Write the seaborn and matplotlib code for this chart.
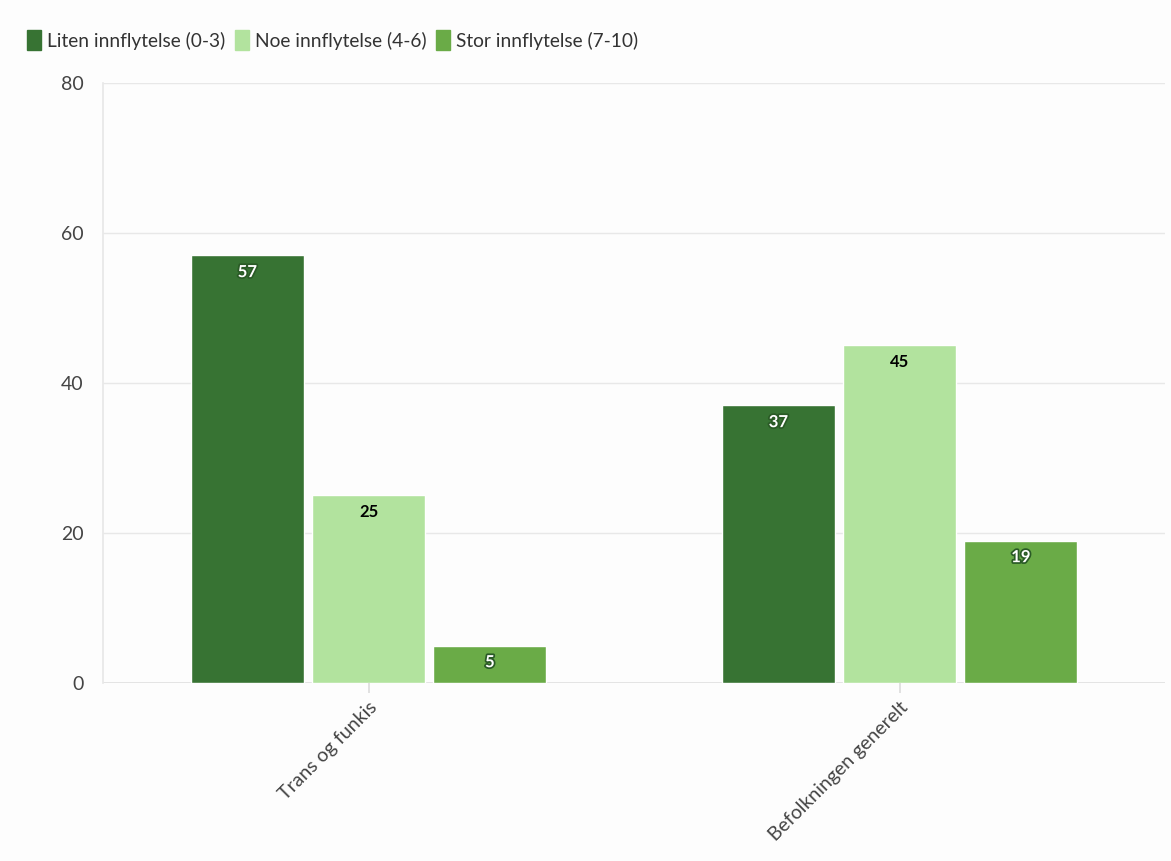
import pandas as pd
import numpy as np
import seaborn as sns
import matplotlib.pyplot as plt
import matplotlib.patheffects as pe

groups = ['Trans og funkis', 'Befolkningen generelt']
series = ['Liten innflytelse (0-3)', 'Noe innflytelse (4-6)', 'Stor innflytelse (7-10)']
liten = [57, 37]
noe = [25, 45]
stor = [5, 19]
colors = ['#377333', '#b2e39e', '#6aab47']
label_colors = ['white', 'black', 'white']

df = pd.DataFrame({
    'gruppe': groups * 3,
    'serie': [series[0]] * 2 + [series[1]] * 2 + [series[2]] * 2,
    'verdi': liten + noe + stor,
})

sns.set_theme(style='white')
plt.rcParams['font.family'] = ['Lato', 'DejaVu Sans']

fig = plt.figure(figsize=(11.71, 8.61), dpi=100)
fig.patch.set_facecolor('#fdfdfd')
ax = fig.add_axes([0.088, 0.2067, 0.907, 0.697])
ax.set_facecolor('#fdfdfd')

sns.barplot(data=df, x='gruppe', y='verdi', hue='serie', hue_order=series,
            palette=colors, width=0.685, gap=0.07, saturation=1, ax=ax,
            legend=False)

# data labels inside the top of each bar
for i, cont in enumerate(ax.containers):
    for bar, val in zip(cont, [liten, noe, stor][i]):
        x = bar.get_x() + bar.get_width() / 2
        t = ax.annotate(str(val), (x, bar.get_height()), xytext=(0, -12),
                        textcoords='offset points', ha='center', va='center',
                        fontsize=12, fontweight='bold', color=label_colors[i])
        if label_colors[i] == 'white':
            t.set_path_effects([pe.withStroke(linewidth=2.5, foreground='#2a5a26')])

ax.set_ylim(0, 80)
ax.set_xlim(-0.5, 1.5)
ax.set_yticks([0, 20, 40, 60, 80])
ax.yaxis.grid(True, color='#e8e8e8', linewidth=1)
ax.set_axisbelow(True)
for s in ['top', 'right', 'bottom']:
    ax.spines[s].set_visible(False)
ax.spines['left'].set_color('#e8e8e8')
ax.axhline(0, color='#e0e0e0', linewidth=1.2, zorder=0.5)
ax.set_xlabel('')
ax.set_ylabel('')
ax.tick_params(axis='y', labelsize=14, colors='#444444', length=0, pad=14)
ax.tick_params(axis='x', labelsize=14, colors='#444444', length=7, color='#dddddd',
               direction='out', bottom=True, pad=4)
plt.setp(ax.get_xticklabels(), rotation=45, ha='right', rotation_mode='anchor')

handles = [plt.Rectangle((0, 0), 1, 1, color=c) for c in colors]
fig.legend(handles, series, loc='upper left', bbox_to_anchor=(0.008, 0.985),
           ncol=3, frameon=False, fontsize=13.8, handlelength=0.75, handleheight=1.25,
           handletextpad=0.3, columnspacing=0.5, labelcolor='#333333')

fig.savefig('out.png', dpi=100, facecolor=fig.get_facecolor())
